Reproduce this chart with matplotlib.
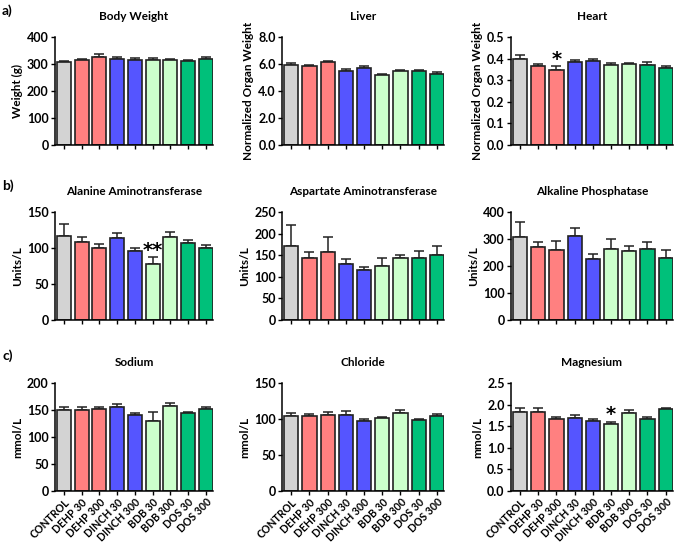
import numpy as np
import matplotlib
matplotlib.use("Agg")
import matplotlib.pyplot as plt

plt.rcParams['font.family'] = ['Lato', 'DejaVu Sans']
plt.rcParams['font.weight'] = 'bold'

# -----------------------------
# data
# -----------------------------
groups = ["CONTROL", "DEHP 30", "DEHP 300", "DINCH 30", "DINCH 300",
          "BDB 30", "BDB 300", "DOS 30", "DOS 300"]
colors = ["#d3d3d3", "#ff8080", "#ff8080", "#5555ff", "#5555ff",
          "#ccffcc", "#ccffcc", "#00c07a", "#00c07a"]

body_mean = [307, 314, 327, 318, 316, 314, 314, 310, 320]
body_err = [3, 4, 10, 10, 8, 7, 6, 4, 8]

liver_mean = [5.93, 5.84, 6.13, 5.49, 5.71, 5.20, 5.49, 5.47, 5.30]
liver_err = [0.15, 0.12, 0.07, 0.15, 0.12, 0.10, 0.10, 0.07, 0.15]

heart_mean = [0.398, 0.367, 0.347, 0.385, 0.388, 0.370, 0.376, 0.373, 0.359]
heart_err = [0.020, 0.007, 0.018, 0.010, 0.010, 0.009, 0.004, 0.010, 0.007]

alt_mean = [117, 108.8, 99.5, 113.4, 95.8, 77.3, 115.3, 106.5, 99.5]
alt_err = [17, 7, 5.5, 7, 3.7, 10.6, 7.4, 5, 5]

ast_mean = [170.8, 144.4, 156.8, 128.9, 114.9, 125, 144.4, 142.9, 149.8]
ast_err = [50, 12.4, 35.7, 12.4, 8.5, 18.6, 7, 16.3, 21.8]

alp_mean = [307.7, 270.8, 259.7, 312.6, 226.5, 264.6, 254.8, 264.6, 230]
alp_err = [55, 17, 33, 28, 19.7, 37, 18.5, 24.6, 30.8]

na_mean = [150, 150.8, 152, 155.7, 141.5, 129.8, 158, 144.6, 151.4]
na_err = [5, 5, 4.3, 6, 3.7, 17, 5.5, 2, 3.7]

cl_mean = [104.2, 103.7, 106, 106, 96.8, 101.9, 107.9, 99, 104.2]
cl_err = [4, 3.7, 3.7, 5, 2.8, 1.4, 5, 1, 2.8]

mg_mean = [1.83, 1.84, 1.66, 1.70, 1.63, 1.55, 1.81, 1.66, 1.89]
mg_err = [0.09, 0.08, 0.06, 0.05, 0.05, 0.06, 0.07, 0.05, 0.04]

panels = [
    ("Body Weight", "Weight (g)", body_mean, body_err, np.arange(0, 401, 100), "%d", {}),
    ("Liver", "Normalized Organ Weight", liver_mean, liver_err, np.arange(0, 8.01, 2), "%.1f", {}),
    ("Heart", "Normalized Organ Weight", heart_mean, heart_err, np.arange(0, 0.51, 0.1), "%.1f", {2: "*"}),
    ("Alanine Aminotransferase", "Units/L", alt_mean, alt_err, np.arange(0, 151, 50), "%d", {5: "**"}),
    ("Aspartate Aminotransferase", "Units/L", ast_mean, ast_err, np.arange(0, 251, 50), "%d", {}),
    ("Alkaline Phosphatase", "Units/L", alp_mean, alp_err, np.arange(0, 401, 100), "%d", {}),
    ("Sodium", "mmol/L", na_mean, na_err, np.arange(0, 201, 50), "%d", {}),
    ("Chloride", "mmol/L", cl_mean, cl_err, np.arange(0, 151, 50), "%d", {}),
    ("Magnesium", "mmol/L", mg_mean, mg_err, np.arange(0, 2.51, 0.5), "%.1f", {5: "*"}),
]

fig = plt.figure(figsize=(6.75, 5.42), dpi=100)

col_left = [0.0815, 0.418, 0.757]
col_width = [0.234, 0.240, 0.240]
row_bottom = [0.7325, 0.4096, 0.0941]
row_height = 0.199

x = np.arange(len(groups))
for i, (title, ylabel, mean, err, yticks, fmt, stars) in enumerate(panels):
    r, c = divmod(i, 3)
    ax = fig.add_axes([col_left[c], row_bottom[r], col_width[c], row_height])
    ax.bar(x, mean, width=0.78, color=colors, edgecolor="#222222", linewidth=1.2, zorder=2)
    ax.errorbar(x, mean, yerr=[np.zeros(len(mean)), err], fmt="none",
                ecolor="#222222", elinewidth=1.1, capsize=3.5, capthick=1.1, zorder=1)
    ax.set_xlim(-0.5, 8.4)
    ax.set_ylim(0, yticks[-1])
    ax.set_yticks(yticks)
    ax.set_yticklabels([fmt % t for t in yticks], fontsize=9, fontweight="bold")
    ax.set_xticks(x)
    if r == 2:
        ax.set_xticklabels(groups, rotation=45, ha="right", rotation_mode="anchor",
                           fontsize=7.6, fontweight="bold")
        ax.tick_params(axis="x", pad=1)
    else:
        ax.set_xticklabels([])
    ax.spines["top"].set_visible(False)
    ax.spines["right"].set_visible(False)
    ax.spines["left"].set_linewidth(1.1)
    ax.spines["bottom"].set_linewidth(1.1)
    ax.tick_params(direction="out", length=3, width=1.0)
    ax.tick_params(axis="y", pad=1.5)
    ax.set_title(title, fontsize=8.5, fontweight="bold", pad=12)
    ax.set_ylabel(ylabel, fontsize=8.5, fontweight="bold", labelpad=3)
    for k, s in stars.items():
        ax.annotate(s, (k, mean[k] + err[k]), xytext=(0, -2), textcoords="offset points",
                    ha="center", va="bottom", fontsize=14, fontweight="bold",
                    family=["DejaVu Sans"])

fig.text(0.003, 0.98, "a)", fontsize=10, fontweight="bold", va="center")
fig.text(0.003, 0.657, "b)", fontsize=10, fontweight="bold", va="center")
fig.text(0.003, 0.343, "c)", fontsize=10, fontweight="bold", va="center")

fig.savefig("out.png", dpi=100)
